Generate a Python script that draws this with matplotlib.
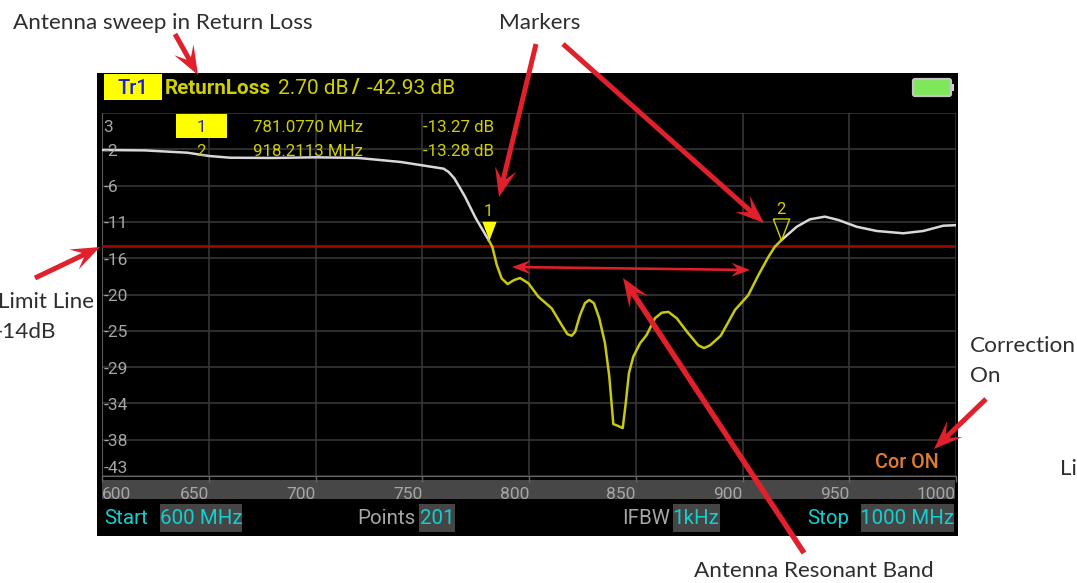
"""Antenna return loss sweep, analyser screenshot with callouts."""
import matplotlib
matplotlib.use('Agg')
import matplotlib.pyplot as plt
from matplotlib.patches import Polygon, Rectangle, FancyBboxPatch
import numpy as np

W, H = 1077, 583

# trace (MHz / dB)
left_freq = [600, 620, 640, 650, 660, 680, 700, 720, 740, 760, 762.3, 765, 770, 775, 781.08]
left_db = [-1.95, -2.0, -2.29, -2.7, -2.92, -2.95, -2.87, -2.95, -3.46, -4.3, -4.7, -5.5, -7.8, -10.5, -13.27]
band_freq = [781.08, 782.8, 784.9, 787.2, 790, 793, 795.8, 799.7, 804.4, 810.6, 815.3, 818, 820,
             821.6, 823.9, 826.2, 828.2, 830.4, 832.9, 835.6, 837.6, 839.5, 841.4, 843.9,
             845.3, 846.8, 848.9, 852, 855.1, 859, 862.2, 865.3, 869.2, 874.6, 879.3, 882,
             884.8, 889.8, 892.6, 896.5, 902.7, 907.4, 912.1, 915.2, 918.21]
band_db = [-13.27, -14.1, -16.4, -18.1, -18.8, -18.3, -18.04, -18.7, -20.4, -21.85, -23.95, -25.1, -25.3,
           -24.8, -22.7, -21.2, -20.8, -21.2, -23.1, -26.25, -30.4, -36.4, -36.6, -36.9,
           -33.8, -30, -27.9, -26.25, -25.2, -23.1, -22.4, -22.3, -23.1, -25, -26.5, -26.85,
           -26.5, -25.3, -23.95, -22.05, -20.2, -17.7, -15.4, -14.1, -13.28]
right_freq = [918.21, 925.4, 931.6, 938.6, 944.9, 953.5, 962.8, 975.3, 984.7, 994, 1000]
right_db = [-13.28, -11.6, -10.66, -10.33, -10.75, -11.6, -12.13, -12.42, -12.13, -11.47, -11.4]

x_ticks = [600, 650, 700, 750, 800, 850, 900, 950, 1000]
y_ticks = [2.70, -1.86, -6.43, -10.99, -15.55, -20.12, -24.68, -29.24, -33.80, -38.37, -42.93]
y_labels = ['3', '-2', '-6', '-11', '-16', '-20', '-25', '-29', '-34', '-38', '-43']
limit_db = -14
marker_freq = [781.077, 918.2113]
marker_db = [-13.27, -13.28]

YEL, GREY, CYAN = "#d0d000", "#a6a6a6", "#12cfd0"
RED = "#e0202b"
INK = "#2e2e2e"
DEV = "Roboto"
NOTE = "Lato"

fig = plt.figure(figsize=(W / 100, H / 100), dpi=100, facecolor="white")

# fondo negro de la pantalla
bg = fig.add_axes([0, 0, 1, 1], zorder=0)
bg.set_xlim(0, W); bg.set_ylim(H, 0); bg.axis('off')
bg.add_patch(Rectangle((97, 73), 861, 463, color="black", lw=0))
bg.add_patch(Rectangle((102, 480), 853, 19, color="#474747", lw=0))
for x0, x1 in [(160, 242), (419, 455), (673, 720), (861, 954)]:
    bg.add_patch(Rectangle((x0, 504), x1 - x0, 28, color="#454545", lw=0))
bg.add_patch(Rectangle((104, 74), 58, 26, color="#ffff00", lw=0))

# plot
ax = fig.add_axes([102 / W, 1 - 476 / H, 854 / W, 363 / H], zorder=1)
ax.set_facecolor("none")
ax.set_xlim(600, 1000)
ax.set_ylim(-42.93, 2.70)
ax.set_xticks(x_ticks)
ax.set_xticklabels([str(v) for v in x_ticks], fontfamily=DEV, fontsize=12.5, color=GREY, ha='right')
ax.get_xticklabels()[0].set_ha('left')
ax.tick_params(axis='x', length=4, width=1, color="#666666", pad=4)
ax.set_yticks(y_ticks)
ax.tick_params(axis='y', length=0, labelleft=False)
ax.grid(True, color="#3a3a3a", lw=1.1)
ax.set_axisbelow(True)
for s in ax.spines.values():
    s.set_visible(False)
ax.spines['left'].set_visible(True)
ax.spines['left'].set_color("#5a5a5a")
ax.spines['bottom'].set_visible(True)
ax.spines['bottom'].set_color("#666666")

for v, lab in zip(y_ticks, y_labels):
    va, dy = 'center', -1.5
    if lab == '3':
        va, dy = 'top', -5
    elif lab == '-43':
        va, dy = 'bottom', 0
    ax.annotate(lab, (0, v), xycoords=ax.get_yaxis_transform(), xytext=(1, dy),
                textcoords='offset points', fontfamily=DEV, fontsize=12.5, color=GREY,
                va=va, ha='left', zorder=5)

ax.axhline(limit_db, color="#a00808", lw=1.9, zorder=3)
ax.plot(left_freq, left_db, color="#d8d8d8", lw=1.8, zorder=4)
ax.plot(right_freq, right_db, color="#d8d8d8", lw=1.8, zorder=4)
ax.plot(band_freq, band_db, color="#c8c810", lw=1.8, zorder=4)

# marcadores, punta sobre la traza
tri = [(-0.38, 1), (0.38, 1), (0, 0), (-0.38, 1)]
ax.plot(marker_freq[0], marker_db[0], marker=tri, ms=27, mfc="#ffff00", mec="none", zorder=6)
ax.plot(marker_freq[1], marker_db[1], marker=tri, ms=31, mfc="none", mec=YEL, mew=1, zorder=6)
for i, (f, d) in enumerate(zip(marker_freq, marker_db)):
    ax.annotate(str(i + 1), (f, d), xytext=(0, 15 if i == 0 else 16.5), textcoords='offset points',
                fontfamily=DEV, fontsize=12, color=YEL, ha='center', va='bottom', zorder=6)

# capa de textos y flechas en pixeles
ov = fig.add_axes([0, 0, 1, 1], zorder=2)
ov.set_xlim(0, W); ov.set_ylim(H, 0); ov.axis('off'); ov.patch.set_alpha(0)


def dev(x, y, s, color=YEL, size=12, ha='left', weight='normal'):
    ov.text(x, y, s, color=color, fontsize=size, ha=ha, va='center', fontfamily=DEV, fontweight=weight)


def nota(x, y, s):
    ov.text(x, y, s, color=INK, fontsize=16.2, ha='left', va='baseline', fontfamily=NOTE)


def flecha(x0, y0, x1, y1, w=5, hl=26, hw=11, notch=7, both=False):
    p0, p1 = np.array([x0, y0], float), np.array([x1, y1], float)
    u = (p1 - p0) / np.hypot(*(p1 - p0))
    n = np.array([-u[1], u[0]])

    def cabeza(tip, d, sg):
        b = tip - d * (hl - notch)
        back = tip - d * (hl + notch * 0.4)
        return [b + sg * n * w / 2, back + sg * n * hw, tip, back - sg * n * hw, b - sg * n * w / 2]

    if both:
        pts = cabeza(p1, u, 1) + cabeza(p0, -u, -1)
    else:
        pts = cabeza(p1, u, 1) + [p0 - n * w / 2, p0 + n * w / 2]
    ov.add_patch(Polygon(pts, closed=True, color=RED, lw=0))


dev(133, 88, "Tr1", color="#1a1ae0", size=14.5, ha='center', weight='medium')
dev(165, 88, "ReturnLoss", size=14.9, weight='bold')
dev(278, 88, "2.70 dB", size=15)
dev(351, 88, "/", size=15, weight='bold')
dev(367, 88, "-42.93 dB", size=15)

ov.add_patch(Rectangle((176, 114), 51, 24, color="#ffff00", lw=0))
dev(201, 127, "1", color="#2a2ab0", size=12.2, ha='center')
dev(201, 151, "2", size=12.2, ha='center')
dev(253, 127, "781.0770 MHz", size=12.2)
dev(253, 151, "918.2113 MHz", size=12.2)
dev(494, 127, "-13.27 dB", size=12.2, ha='right')
dev(494, 151, "-13.28 dB", size=12.2, ha='right')

# bateria
ov.add_patch(FancyBboxPatch((913, 79), 38, 17, boxstyle="round,pad=0,rounding_size=2",
                            fc="#7fe85a", ec="#c4c4c4", lw=1.6))
ov.add_patch(Rectangle((952, 84), 2, 7, color="#d0d0d0", lw=0))

dev(875, 462, "Cor ON", color="#dc7d32", size=14.2, weight='medium')

dev(104, 519, "Start", color=CYAN, size=14.8)
dev(201, 519, "600 MHz", color=CYAN, size=14.8, ha='center')
dev(357, 519, "Points", color=GREY, size=14.8)
dev(437, 519, "201", color=CYAN, size=14.8, ha='center')
dev(622, 519, "IFBW", color=GREY, size=14.8)
dev(696, 519, "1kHz", color=CYAN, size=14.8, ha='center')
dev(807, 519, "Stop", color=CYAN, size=14.8)
dev(907, 519, "1000 MHz", color=CYAN, size=14.8, ha='center')

nota(13, 29, "Antenna sweep in Return Loss")
nota(499, 29, "Markers")
nota(-2, 308, "Limit Line")
nota(-5, 338, "-14dB")
nota(970, 352, "Correction")
nota(970, 382, "On")
nota(1060, 475, "Li")
nota(694, 577, "Antenna Resonant Band")

flecha(175, 34, 198, 75)
flecha(536, 44, 499, 197)
flecha(563, 44, 764, 223)
flecha(35, 278, 100, 247)
flecha(986, 399, 934, 449)
flecha(804, 553, 623, 278, w=5.5)
flecha(512, 267, 750, 270, w=2.6, hl=17, hw=7, notch=4, both=True)

fig.savefig("out.png", dpi=100, facecolor="white")
